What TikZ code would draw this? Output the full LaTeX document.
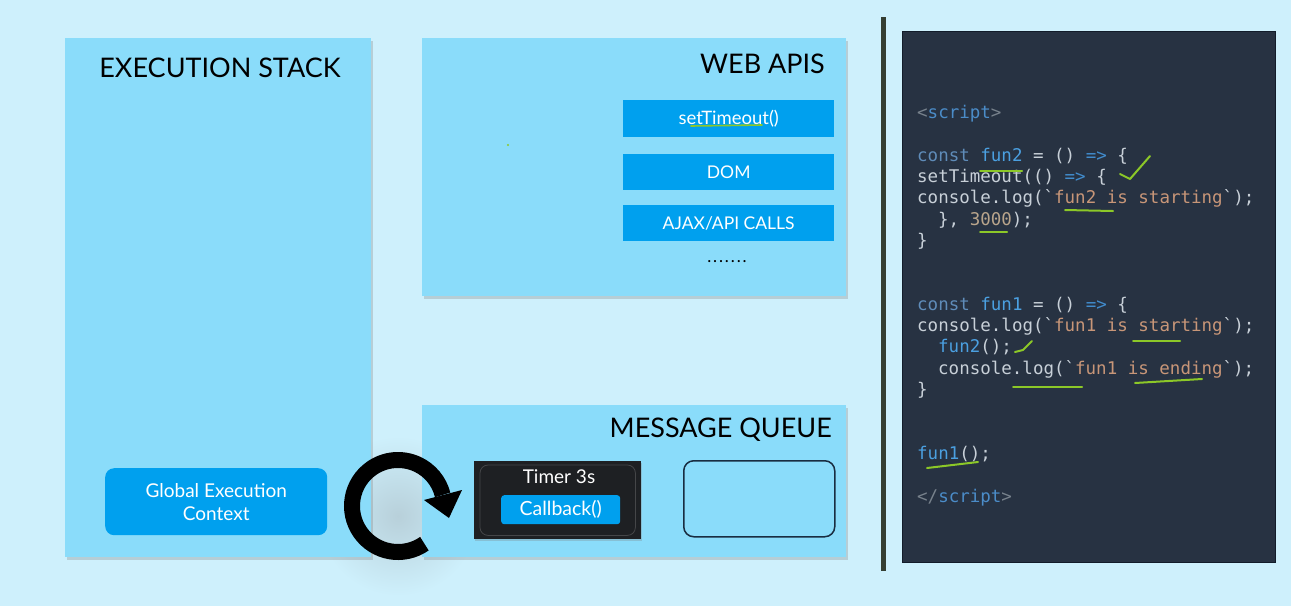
\documentclass[tikz,border=0pt]{standalone}
\usepackage{fontspec}
\setmainfont{Lato}
\newfontfamily\codefont{DejaVu Sans Mono}
\usetikzlibrary{shadows}
\definecolor{bgblue}{RGB}{206,240,252}
\definecolor{hazecol}{RGB}{184,208,218}
\definecolor{panelblue}{RGB}{138,220,250}
\definecolor{boxblue}{RGB}{0,160,238}
\definecolor{codebg}{RGB}{39,50,66}
\definecolor{codeborder}{RGB}{18,28,42}
\definecolor{sepcol}{RGB}{52,62,50}
\definecolor{timerbg}{RGB}{30,32,35}
\definecolor{hlgreen}{RGB}{140,200,40}
\definecolor{jspl}{RGB}{200,208,216}
\definecolor{jskw}{RGB}{95,140,185}
\definecolor{jsfn}{RGB}{75,160,225}
\definecolor{jsop}{RGB}{65,140,205}
\definecolor{jsst}{RGB}{200,150,120}
\definecolor{jsnum}{RGB}{185,165,140}
\definecolor{jstag}{RGB}{120,130,140}
\definecolor{jstagn}{RGB}{75,140,200}
\newcommand\jsPl[1]{\textcolor{jspl}{#1}}
\newcommand\jsKw[1]{\textcolor{jskw}{#1}}
\newcommand\jsFn[1]{\textcolor{jsfn}{#1}}
\newcommand\jsOp[1]{\textcolor{jsop}{#1}}
\newcommand\jsSt[1]{\textcolor{jsst}{#1}}
\newcommand\jsNum[1]{\textcolor{jsnum}{#1}}
\newcommand\jsTag[1]{\textcolor{jstag}{#1}}
\newcommand\jsTagN[1]{\textcolor{jstagn}{#1}}
\tikzset{
  panel/.style={fill=panelblue, draw=none, anchor=north west, inner sep=0pt, outer sep=0pt,
    drop shadow={opacity=0.3, shadow xshift=1.5pt, shadow yshift=-2.5pt}},
  paneltitle/.style={font=\fontsize{27}{31}\selectfont, text=black, inner sep=0pt},
  apibox/.style={fill=boxblue, anchor=north west, minimum width=211pt, inner sep=0pt,
    text=white, font=\fontsize{17.5}{20}\selectfont},
  codeline/.style={anchor=base west, inner sep=0pt, font=\codefont\fontsize{17.5}{21}\selectfont},
  hl/.style={draw=hlgreen, line width=2pt, line cap=round, line join=round},
}
\begin{document}
\begin{tikzpicture}[x=1pt,y=-1pt]
\useasboundingbox (0,0) rectangle (1291,606);
\fill[bgblue] (0,0) rectangle (1291,606);
% soft haze behind the loop symbol
\begin{scope}
  \clip (0,0) rectangle (1291,606);
  \shade[inner color=hazecol, outer color=bgblue] (398,516) circle (80);
\end{scope}

% Execution stack
\node[panel, minimum width=306pt, minimum height=519pt] (stack) at (65,38) {};
\node[paneltitle, anchor=base] (stacktitle) at (220,77) {EXECUTION STACK};
\node[fill=boxblue, rounded corners=9pt, anchor=north west, minimum width=222pt, minimum height=67pt,
  inner sep=0pt, align=center, text=white, font=\fontsize{19}{23}\selectfont] (gec) at (105,468)
  {Global Execution\\Context};

% Web APIs
\node[panel, minimum width=424pt, minimum height=258pt] (webapis) at (422,38) {};
\node[paneltitle, anchor=base east] (webtitle) at (825,73) {WEB APIS};
\node[apibox, minimum height=37pt, font=\fontsize{18.5}{20}\selectfont] (settimeout) at (623,100) {setTimeout()};
\node[apibox, minimum height=36pt] (dom) at (623,154) {DOM};
\node[apibox, minimum height=36pt] (ajax) at (623,205) {AJAX/API CALLS};
\node[inner sep=0pt, font=\fontsize{17}{18}\selectfont] (dots) at (727,262)
  {.\kern1.9pt.\kern1.9pt.\kern1.9pt.\kern1.9pt.\kern1.9pt.\kern1.9pt.};
\draw[hl, line width=1.6pt] (691,126) -- (762,125);
\fill[hlgreen] (508,145) circle (1.2);

% Message queue
\node[panel, minimum width=424pt, minimum height=152pt] (mqueue) at (422,405) {};
\node[paneltitle, anchor=base east] (mqtitle) at (832,437) {MESSAGE QUEUE};
\node[fill=timerbg, anchor=north west, minimum width=167pt, minimum height=78pt, inner sep=0pt,
  drop shadow={opacity=0.3, shadow xshift=1pt, shadow yshift=-2pt}] (timer) at (474,461) {};
\draw[gray!40!timerbg, line width=0.8pt, rounded corners=8pt] ([shift={(6pt,-4pt)}]timer.north west) rectangle ([shift={(-6pt,4pt)}]timer.south east);
\node[text=white, inner sep=0pt, font=\fontsize{19}{20}\selectfont] (timertext) at (559,477) {Timer 3s};
\node[fill=boxblue, rounded corners=3pt, anchor=north west, minimum width=119pt, minimum height=29pt,
  inner sep=0pt, text=white, font=\fontsize{19.5}{20}\selectfont] (callback) at (501,495) {Callback()};
\node[draw={rgb,255:red,25;green,45;blue,65}, line width=1.5pt, rounded corners=10pt, anchor=north west,
  minimum width=151pt, minimum height=76pt, inner sep=0pt] (emptyslot) at (683,460) {};

% Event loop symbol
\coordinate (loopc) at (398,506);
\draw[black, line width=16pt] (loopc) ++(55:46) arc[start angle=55, end angle=346, radius=46];
\fill[black] (424,500) -- (462,490) -- (449,518) -- cycle;

% Separator
\draw[sepcol, line width=5pt] (883,17) -- (883,571);

% Code panel
\node[fill=codebg, draw=codeborder, line width=1pt, anchor=north west, minimum width=373pt,
  minimum height=531pt, inner sep=0pt] (codepanel) at (902,31) {};

\node[codeline] (c1) at (917,118) {\jsTag{<}\jsTagN{script}\jsTag{>}};
\node[codeline] (c2) at (917,161) {\jsKw{const} \jsFn{fun2} \jsPl{=} \jsPl{()} \jsOp{=>} \jsPl{\{}};
\node[codeline] (c3) at (917,182) {\jsPl{setTimeout(()} \jsOp{=>} \jsPl{\{}};
\node[codeline] (c4) at (917,203) {\jsPl{console.log(`}\jsSt{fun2 is starting}\jsPl{`);}};
\node[codeline] (c5) at (938,225) {\jsPl{\}, }\jsNum{3000}\jsPl{);}};
\node[codeline] (c6) at (917,246) {\jsPl{\}}};
\node[codeline] (c7) at (917,310) {\jsKw{const} \jsFn{fun1} \jsPl{=} \jsPl{()} \jsOp{=>} \jsPl{\{}};
\node[codeline] (c8) at (917,331) {\jsPl{console.log(`}\jsSt{fun1 is starting}\jsPl{`);}};
\node[codeline] (c9) at (938,352) {\jsFn{fun2}\jsPl{();}};
\node[codeline] (c10) at (938,374) {\jsPl{console.log(`}\jsSt{fun1 is ending}\jsPl{`);}};
\node[codeline] (c11) at (917,395) {\jsPl{\}}};
\node[codeline] (c12) at (917,459) {\jsFn{fun1}\jsPl{();}};
\node[codeline] (c13) at (917,502) {\jsTag{</}\jsTagN{script}\jsTag{>}};

% Green annotations
\draw[hl] (980,171) -- (1022,171);
\draw[hl] (1120,174) -- (1130,179) -- (1150,156);
\draw[hl] (1065,210) -- (1113,211);
\draw[hl] (980,232) -- (1007,232);
\draw[hl] (1133,341) -- (1180,341);
\draw[hl] (1015,352) -- (1023,350) -- (1032,341);
\draw[hl] (1013,387) -- (1082,387);
\draw[hl] (1135,383) -- (1202,379);
\draw[hl] (927,468) -- (978,462);
\end{tikzpicture}
\end{document}
